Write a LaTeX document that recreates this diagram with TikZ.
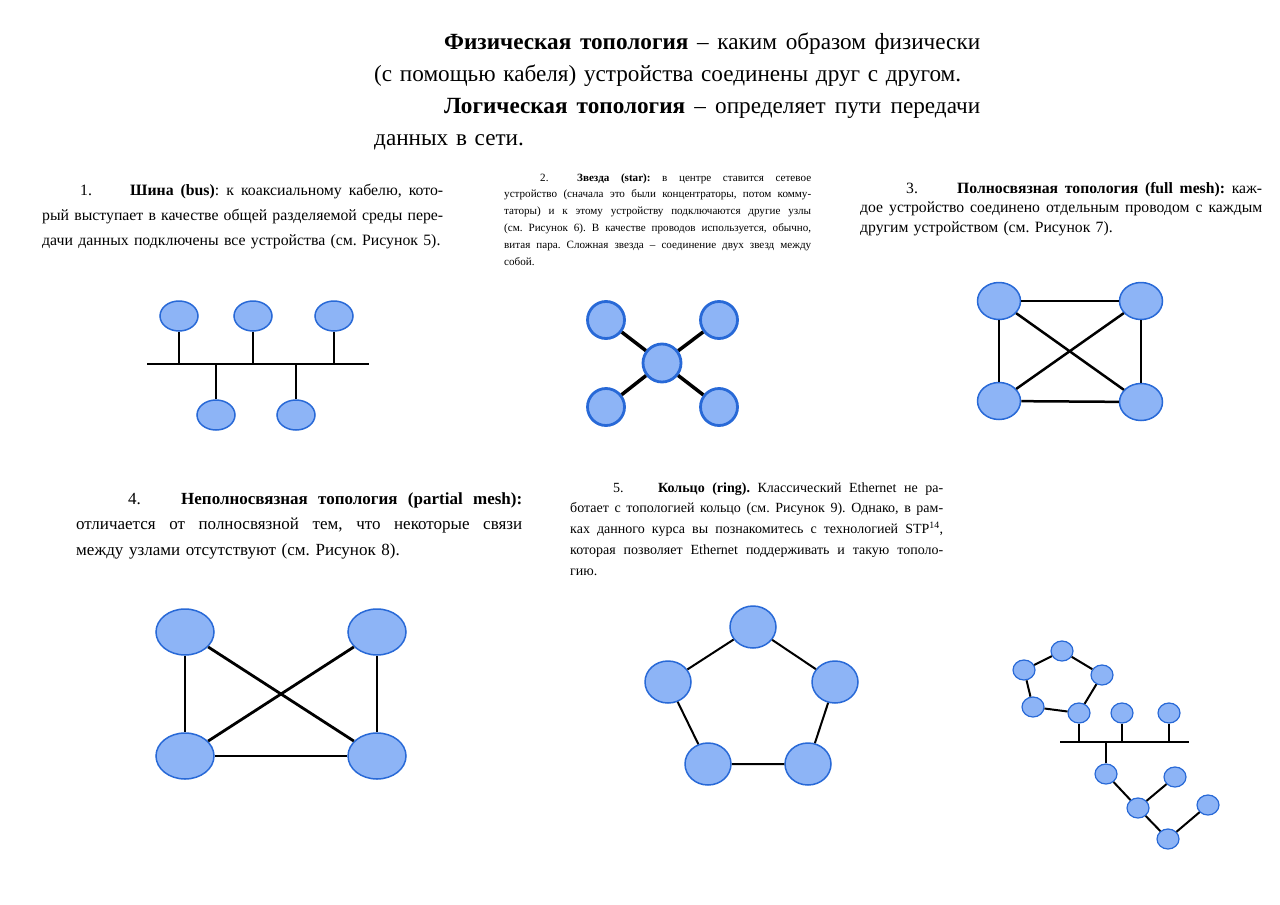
\documentclass[tikz,border=0pt]{standalone}
\usepackage{fontspec}
\setmainfont{Liberation Serif}
\usetikzlibrary{shapes.geometric}
\definecolor{devfill}{RGB}{141,180,246}
\definecolor{devedge}{RGB}{40,105,215}
\frenchspacing
\newcommand{\jline}[1]{\makebox[\hsize][s]{\spaceskip=0pt\xspaceskip=0pt #1}}
\newcommand{\numline}[4]{\hspace*{#1}\makebox[#2][l]{#3}\makebox[\dimexpr\hsize-#1-#2\relax][s]{\spaceskip=0pt\xspaceskip=0pt #4}}

\begin{document}
\begin{tikzpicture}[x=1pt, y=-1pt,
    dev/.style={ellipse, draw=devedge, fill=devfill, line width=1.5pt, inner sep=0pt},
    busdev/.style={dev, minimum width=38pt, minimum height=30pt},
    stardev/.style={dev, circle, minimum size=37pt, line width=2.8pt},
    meshdev/.style={dev, minimum width=43pt, minimum height=37pt},
    pmeshdev/.style={dev, minimum width=58pt, minimum height=46pt},
    ringdev/.style={dev, minimum width=46pt, minimum height=42pt},
    mixdev/.style={dev, minimum width=22pt, minimum height=20pt, line width=1.2pt},
    wire/.style={line width=2pt, black},
    para/.style={align=left, inner sep=0pt, anchor=base west}]
    \fill[white] (0,0) rectangle (1280,905);
    \useasboundingbox (0,0) rectangle (1280,905);

    % texts
    \node[para, text width=606pt, font=\fontsize{23.2}{32}\selectfont] (title) at (374,49) {%
        \numline{70pt}{0pt}{}{\textbf{Физическая топология} – каким образом физически}\\
        (с помощью кабеля) устройства соединены друг с другом.\\
        \numline{70pt}{0pt}{}{\textbf{Логическая топология} – определяет пути передачи}\\
        данных в сети.};
    \node[para, text width=401pt, font=\fontsize{15.8}{25}\selectfont] (bustxt) at (42,195) {%
        \numline{38pt}{50pt}{1.}{\textbf{Шина (bus)}: к коаксиальному кабелю, кото-}\\
        \jline{рый выступает в качестве общей разделяемой среды пере-}\\
        дачи данных подключены все устройства (см. Рисунок 5).};
    \node[para, text width=307pt, font=\fontsize{11.1}{16.8}\selectfont] (startxt) at (504,181) {%
        \numline{36pt}{37pt}{2.}{\textbf{Звезда (star):} в центре ставится сетевое}\\
        \jline{устройство (сначала это были концентраторы, потом комму-}\\
        \jline{таторы) и к этому устройству подключаются другие узлы}\\
        \jline{(см. Рисунок 6). В качестве проводов используется, обычно,}\\
        \jline{витая пара. Сложная звезда – соединение двух звезд между}\\
        собой.};
    \node[para, text width=402pt, font=\fontsize{15.7}{19.5}\selectfont] (meshtxt) at (860,193) {%
        \numline{46pt}{51pt}{3.}{\textbf{Полносвязная топология (full mesh):} каж-}\\
        \jline{дое устройство соединено отдельным проводом с каждым}\\
        другим устройством (см. Рисунок 7).};
    \node[para, text width=446pt, font=\fontsize{17}{25.5}\selectfont] (pmeshtxt) at (76,504) {%
        \numline{52pt}{53pt}{4.}{\textbf{Неполносвязная топология (partial mesh):}}\\
        \jline{отличается от полносвязной тем, что некоторые связи}\\
        между узлами отсутствуют (см. Рисунок 8).};
    \node[para, text width=373pt, font=\fontsize{14}{20.8}\selectfont] (ringtxt) at (570,492) {%
        \numline{43pt}{45pt}{5.}{\textbf{Кольцо (ring).} Классический Ethernet не ра-}\\
        \jline{ботает с топологией кольцо (см. Рисунок 9). Однако, в рам-}\\
        \jline{ках данного курса вы познакомитесь с технологией STP\textsuperscript{14},}\\
        \jline{которая позволяет Ethernet поддерживать и такую тополо-}\\
        гию.};

    % bus
    \coordinate (busL) at (147,364);
    \coordinate (busR) at (369,364);
    \node[busdev] (bt1) at (179,316) {};
    \node[busdev] (bt2) at (253,316) {};
    \node[busdev] (bt3) at (334,316) {};
    \node[busdev] (bb1) at (216,415) {};
    \node[busdev] (bb2) at (296,415) {};
    \draw[wire] (busL) -- (busR);
    \draw[wire] (bt1) -- (bt1 |- busL);
    \draw[wire] (bt2) -- (bt2 |- busL);
    \draw[wire] (bt3) -- (bt3 |- busL);
    \draw[wire] (bb1) -- (bb1 |- busL);
    \draw[wire] (bb2) -- (bb2 |- busL);

    % star
    \node[stardev, minimum size=38pt] (hub) at (662,363) {};
    \node[stardev] (s1) at (606,320) {};
    \node[stardev] (s2) at (719,320) {};
    \node[stardev] (s3) at (606,407) {};
    \node[stardev] (s4) at (719,407) {};
    \foreach \s in {s1,s2,s3,s4}
        \draw[wire, line width=3.5pt] (hub) -- (\s);

    % full mesh
    \node[meshdev] (m1) at (999,301) {};
    \node[meshdev] (m2) at (1141,301) {};
    \node[meshdev] (m3) at (999,401) {};
    \node[meshdev] (m4) at (1141,402) {};
    \draw[wire, line width=2.5pt] (m1) -- (m2);
    \draw[wire, line width=2.5pt] (m3) -- (m4);
    \draw[wire, line width=2.5pt] (m1) -- (m3);
    \draw[wire, line width=2.5pt] (m2) -- (m4);
    \draw[wire, line width=2.5pt] (m1) -- (m4);
    \draw[wire, line width=2.5pt] (m2) -- (m3);

    % partial mesh
    \node[pmeshdev] (p1) at (185,632) {};
    \node[pmeshdev] (p2) at (377,632) {};
    \node[pmeshdev] (p3) at (185,756) {};
    \node[pmeshdev] (p4) at (377,756) {};
    \draw[wire, line width=2.8pt] (p1) -- (p3);
    \draw[wire, line width=2.8pt] (p2) -- (p4);
    \draw[wire, line width=2.8pt] (p3) -- (p4);
    \draw[wire, line width=2.8pt] (p1) -- (p4);
    \draw[wire, line width=2.8pt] (p2) -- (p3);

    % ring
    \node[ringdev] (r1) at (753,627) {};
    \node[ringdev] (r2) at (835,682) {};
    \node[ringdev] (r3) at (808,764) {};
    \node[ringdev] (r4) at (708,764) {};
    \node[ringdev] (r5) at (668,682) {};
    \draw[wire] (r1) -- (r2) -- (r3) -- (r4) -- (r5) -- (r1);

    % mixed
    \coordinate (hbL) at (1060,742);
    \coordinate (hbR) at (1189,742);
    \node[mixdev] (x1) at (1024,670) {};
    \node[mixdev] (x2) at (1062,651) {};
    \node[mixdev] (x3) at (1102,675) {};
    \node[mixdev] (x4) at (1033,707) {};
    \node[mixdev] (x5) at (1079,713) {};
    \node[mixdev] (x6) at (1122,713) {};
    \node[mixdev] (x7) at (1169,713) {};
    \node[mixdev] (x8) at (1106,774) {};
    \node[mixdev] (x9) at (1175,777) {};
    \node[mixdev] (x10) at (1138,808) {};
    \node[mixdev] (x11) at (1208,805) {};
    \node[mixdev] (x12) at (1168,839) {};
    \draw[wire] (hbL) -- (hbR);
    \draw[wire] (x1) -- (x2) -- (x3) -- (x5) -- (x4) -- (x1);
    \draw[wire] (x5) -- (x5 |- hbL);
    \draw[wire] (x6) -- (x6 |- hbL);
    \draw[wire] (x7) -- (x7 |- hbL);
    \draw[wire] (x8) -- (x8 |- hbL);
    \draw[wire] (x8) -- (x10) -- (x12) -- (x11);
    \draw[wire] (x10) -- (x9);
\end{tikzpicture}
\end{document}
